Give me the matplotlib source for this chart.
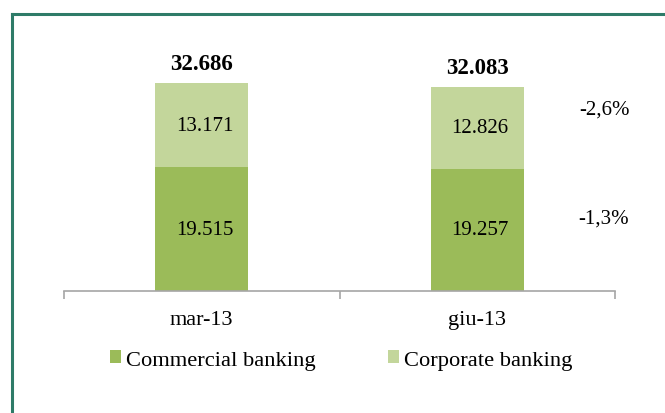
import numpy as np
import matplotlib.pyplot as plt
from matplotlib.lines import Line2D

# Data
periods = ['mar-13', 'giu-13']
commercial = [19.515, 19.257]
corporate = [13.171, 12.826]
totals = ['32.686', '32.083']
comm_labels = ['19.515', '19.257']
corp_labels = ['13.171', '12.826']
changes = ['-2,6%', '-1,3%']

dark_green = '#9bbb59'
light_green = '#c3d69b'
axis_grey = '#a6a6a6'

plt.rcParams['font.family'] = ['Liberation Serif', 'DejaVu Serif']

fig = plt.figure(figsize=(6.65, 4.14), dpi=100)
W, H = 665, 414
ax = fig.add_axes([64 / W, (H - 292) / H, 551 / W, 254 / H])

x = np.arange(len(periods))
bw = 0.338
b1 = ax.bar(x, commercial, bw, color=dark_green, label='Commercial banking')
b2 = ax.bar(x, corporate, bw, bottom=commercial, color=light_green, label='Corporate banking')

for i in range(len(periods)):
    ax.text(x[i] + 0.01, commercial[i] / 2, comm_labels[i], ha='center', va='center', fontsize=15)
    ax.text(x[i] + 0.01, commercial[i] + corporate[i] / 2, corp_labels[i], ha='center', va='center', fontsize=15)
    ax.annotate(totals[i], (x[i], commercial[i] + corporate[i]), xytext=(0, 14), textcoords='offset points',
                ha='center', va='center', fontsize=16.5, fontweight='bold')

# percent changes on the right
fig.text(604 / W, 1 - 110 / H, changes[0], ha='center', va='center', fontsize=15)
fig.text(604 / W, 1 - 219 / H, changes[1], ha='center', va='center', fontsize=15)

ax.set_xlim(-0.5, 1.5)
ax.set_ylim(0, 40)
ax.set_yticks([])
ax.set_xticks(x)
ax.set_xticklabels(periods, fontsize=16)
ax.tick_params(axis='x', which='major', length=0, pad=14)
ax.set_xticks([-0.5, 0.5, 1.5], minor=True)
ax.tick_params(axis='x', which='minor', length=6, color=axis_grey, width=1.2)
for s in ['top', 'right', 'left']:
    ax.spines[s].set_visible(False)
ax.spines['bottom'].set_color(axis_grey)
ax.spines['bottom'].set_linewidth(1.2)

fig.legend(handles=[b1, b2], loc='center', bbox_to_anchor=(341 / W, 1 - 361 / H), ncol=2, frameon=False,
           fontsize=16.2, handlelength=0.5, handleheight=0.5, handletextpad=0.23, columnspacing=3.2)

# frame border (top and left only visible)
border = '#2e7b68'
fig.add_artist(Line2D([12 / W, 1], [1 - 15 / H, 1 - 15 / H], color=border, lw=2.2, transform=fig.transFigure))
fig.add_artist(Line2D([12 / W, 12 / W], [0, 1 - 15 / H], color=border, lw=2.2, transform=fig.transFigure))

fig.savefig('out.png', dpi=100)
